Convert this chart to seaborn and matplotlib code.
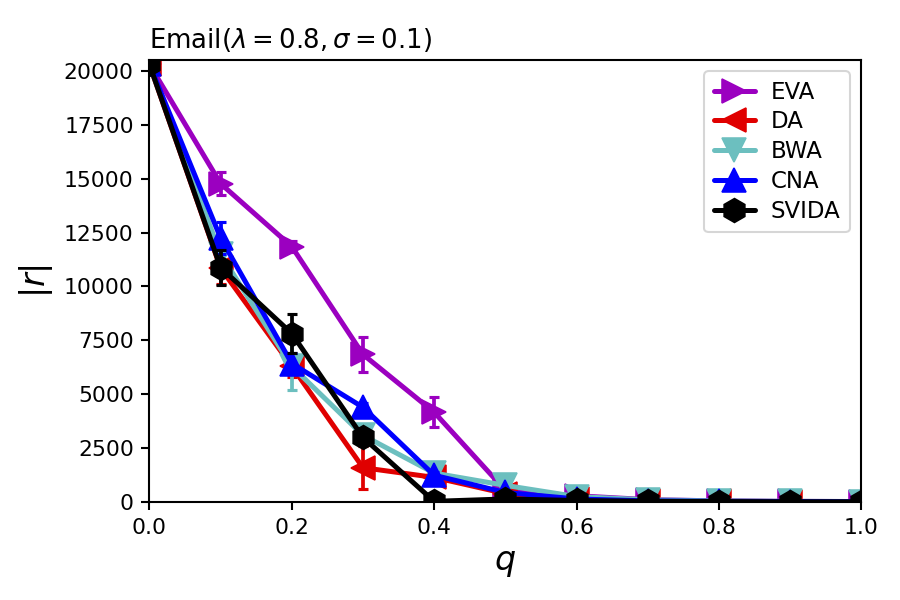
import matplotlib
matplotlib.use("Agg")
import matplotlib.pyplot as plt
import seaborn as sns
import numpy as np
import pandas as pd

q = [0.0, 0.1, 0.2, 0.3, 0.4, 0.5, 0.6, 0.7, 0.8, 0.9, 1.0]

eva = [20300, 14770, 11850, 6850, 4170, 550, 300, 120, 60, 40, 30]
eva_err = [0, 530, 250, 800, 700, 100, 50, 0, 0, 0, 0]

da = [20300, 10850, 6300, 1600, 1150, 400, 150, 60, 40, 30, 20]
da_err = [0, 750, 500, 1000, 200, 100, 0, 0, 0, 0, 0]

bwa = [20300, 11500, 6300, 3100, 1350, 780, 260, 110, 60, 40, 30]
bwa_err = [0, 600, 1100, 300, 150, 100, 0, 0, 0, 0, 0]

cna = [20300, 12250, 6430, 4400, 1250, 450, 150, 60, 40, 30, 20]
cna_err = [0, 740, 500, 200, 150, 100, 0, 0, 0, 0, 0]

svida = [20300, 10880, 7820, 3000, 40, 150, 80, 40, 30, 20, 20]
svida_err = [0, 830, 900, 300, 0, 0, 0, 0, 0, 0, 0]

names = ["EVA", "DA", "BWA", "CNA", "SVIDA"]
values = [eva, da, bwa, cna, svida]
errors = [eva_err, da_err, bwa_err, cna_err, svida_err]
colors = ["#9b00c0", "#e00000", "#6cbfbf", "#0000ff", "#000000"]
markers = [">", "<", "v", "^", "h"]

sns.set_theme(style="ticks", rc={
    "text.color": "black", "axes.labelcolor": "black",
    "xtick.color": "black", "ytick.color": "black",
    "axes.edgecolor": "black", "axes.linewidth": 1.0,
})
plt.rcParams["font.family"] = ["DejaVu Sans"]
plt.rcParams["mathtext.fontset"] = "dejavusans"

fig, ax = plt.subplots(figsize=(6, 4), dpi=150)
fig.subplots_adjust(left=0.166, right=0.957, top=0.9, bottom=0.163)

rows = []
for n, v in zip(names, values):
    for qi, vi in zip(q, v):
        rows.append({"q": qi, "r": vi, "method": n})
df = pd.DataFrame(rows)

for n, v, e, c, m in zip(names, values, errors, colors, markers):
    sub = df[df["method"] == n]
    sns.lineplot(data=sub, x="q", y="r", ax=ax, color=c, marker=m,
                 markersize=11.5, linewidth=2.4, markeredgecolor=c,
                 label=n)
    ax.errorbar(q, v, yerr=e, fmt="none", ecolor=c, elinewidth=1.8,
                capsize=2.5, capthick=1.5)

ax.set_xlim(0, 1.0)
ax.set_ylim(0, 20500)
ax.set_xticks([0.0, 0.2, 0.4, 0.6, 0.8, 1.0])
ax.set_yticks([0, 2500, 5000, 7500, 10000, 12500, 15000, 17500, 20000])
ax.tick_params(labelsize=10.5, direction="out", length=4, width=1.0)
ax.set_xlabel("$q$", fontsize=16)
ax.set_ylabel("$|r|$", fontsize=16)
ax.set_title(r"Email($\lambda=0.8,\sigma=0.1$)", loc="left", fontsize=12.5)
ax.legend(loc="upper right", fontsize=11, frameon=True, handlelength=1.8,
          labelspacing=0.3, handletextpad=0.7)

fig.savefig("out.png", dpi=150)
